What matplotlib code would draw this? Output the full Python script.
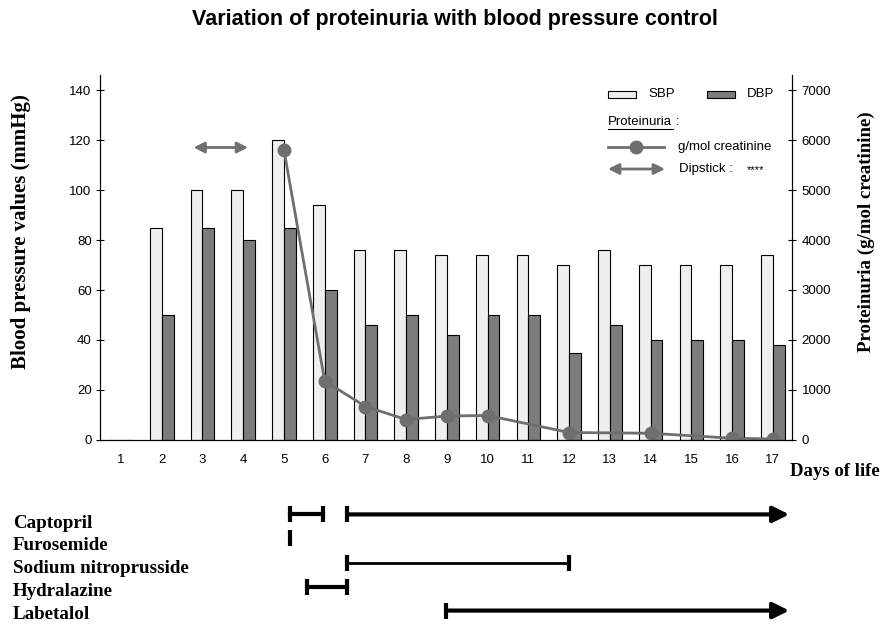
import numpy as np
import matplotlib.pyplot as plt
import matplotlib.transforms as mtransforms
from matplotlib.patches import Rectangle
from matplotlib.lines import Line2D

days = np.arange(1, 18)
sbp = [0, 85, 100, 100, 120, 94, 76, 76, 74, 74, 74, 70, 76, 70, 70, 70, 74]
dbp = [0, 50, 85, 80, 85, 60, 46, 50, 42, 50, 50, 35, 46, 40, 40, 40, 38]
prot_days = [5, 6, 7, 8, 9, 10, 12, 14, 16, 17]
prot_vals = [5800, 1180, 670, 410, 480, 490, 150, 135, 35, 20]
dipstick_span = (2.78, 4.12)
dipstick_level = 117

drugs = ['Captopril', 'Furosemide', 'Sodium nitroprusside', 'Hydralazine', 'Labetalol']
# (start, end, ends_with_arrow) for each course of treatment
drug_courses = {
    'Captopril': [(5.15, 5.95, False), (6.55, 17.4, True)],
    'Furosemide': [(5.15, 5.15, False)],
    'Sodium nitroprusside': [(6.55, 12.0, False)],
    'Hydralazine': [(5.57, 6.55, False)],
    'Labetalol': [(8.98, 17.4, True)],
}

sans = 'Liberation Sans'
serif = 'Liberation Serif'
plt.rcParams['font.family'] = sans
plt.rcParams['font.size'] = 9.5

fig = plt.figure(figsize=(8.92, 6.25), dpi=100)
ax = fig.add_axes([0.1121, 0.296, 0.7758, 0.584])

w = 0.29
ax.bar(days - w / 2, sbp, width=w, color='#efefef', edgecolor='black', linewidth=0.8)
ax.bar(days + w / 2, dbp, width=w, color='#7c7c7c', edgecolor='black', linewidth=0.8)
ax.set_xlim(0.485, 17.47)
ax.set_ylim(0, 146)
ax.set_yticks(range(0, 141, 20))
ax.set_xticks(days)
ax.tick_params(axis='x', length=0, pad=10)
ax.tick_params(axis='y', direction='inout', length=6, pad=3)
ax.spines['top'].set_visible(False)
ax.set_ylabel('Blood pressure values (mmHg)', family=serif, fontsize=15, fontweight='bold')
ax.yaxis.set_label_coords(-0.1, 0.57)

ax.annotate('', xy=(dipstick_span[1], dipstick_level), xytext=(dipstick_span[0], dipstick_level),
            arrowprops=dict(arrowstyle='<|-|>', color='#707070', lw=2, mutation_scale=16,
                            shrinkA=0, shrinkB=0))

axr = ax.twinx()
axr.set_ylim(0, 7300)
axr.set_yticks(range(0, 7001, 1000))
axr.tick_params(axis='y', direction='inout', length=6, pad=4)
axr.spines['top'].set_visible(False)
axr.plot(prot_days, prot_vals, color='#6e6e6e', lw=2, marker='o', markersize=9)
axr.set_ylabel('Proteinuria (g/mol creatinine)', family=serif, fontsize=13.6, fontweight='bold',
               rotation=90)
axr.yaxis.set_label_coords(1.095, 0.57)

# legend drawn by hand to keep the original layout
def fx(px):
    return (px - 100) / 692

def fy(py):
    return (440 - py) / 365

T = axr.transAxes
axr.add_patch(Rectangle((fx(608), fy(98)), fx(636) - fx(608), fy(91) - fy(98), transform=T,
                        facecolor='#efefef', edgecolor='black', lw=0.8, clip_on=False))
axr.text(fx(648), fy(94), 'SBP', transform=T, va='center')
axr.add_patch(Rectangle((fx(707), fy(98)), fx(735) - fx(707), fy(91) - fy(98), transform=T,
                        facecolor='#7c7c7c', edgecolor='black', lw=0.8, clip_on=False))
axr.text(fx(747), fy(94), 'DBP', transform=T, va='center')
prot_txt = axr.text(fx(608), fy(122), 'Proteinuria', transform=T, va='center')
axr.annotate(' :', xy=(1, 0.5), xycoords=prot_txt, va='center')
axr.add_line(Line2D([fx(608), fx(673)], [fy(129), fy(129)], transform=T, color='black', lw=0.8))
axr.add_line(Line2D([fx(608), fx(664)], [fy(147), fy(147)], transform=T, color='#6e6e6e', lw=2))
axr.add_line(Line2D([fx(636)], [fy(147)], transform=T, color='#6e6e6e', marker='o', markersize=9))
axr.text(fx(678), fy(147), 'g/mol creatinine', transform=T, va='center')
axr.annotate('', xy=(fx(665), fy(169)), xytext=(fx(608), fy(169)), xycoords=T, textcoords=T,
             arrowprops=dict(arrowstyle='<|-|>', color='#707070', lw=2, mutation_scale=16,
                             shrinkA=0, shrinkB=0))
axr.text(fx(679), fy(169), 'Dipstick :', transform=T, va='center')
axr.text(fx(747), fy(170), '****', transform=T, va='center', fontsize=8)

fig.text(0.886, 0.245, 'Days of life', family=serif, fontsize=13.5, fontweight='bold', va='center')
fig.text(0.51, 0.969, 'Variation of proteinuria with blood pressure control',
         fontsize=15.5, fontweight='bold', ha='center', va='center')

# treatment timeline
axd = fig.add_axes([0.1121, 0.0, 0.7758, 0.2])
axd.set_xlim(ax.get_xlim())
axd.set_ylim(4.6, -0.6)
axd.axis('off')
label_tr = mtransforms.blended_transform_factory(fig.transFigure, axd.transData)
for i, name in enumerate(drugs):
    lw = 2 if name == 'Sodium nitroprusside' else 3
    for start, end, arrow in drug_courses[name]:
        if start == end:
            axd.plot([start], [i], marker='|', markersize=12, mew=3, color='black')
            continue
        if arrow:
            axd.annotate('', xy=(end, i), xytext=(start, i),
                         arrowprops=dict(arrowstyle='-|>', color='black', lw=lw,
                                         mutation_scale=24, shrinkA=0, shrinkB=0))
            axd.plot([start], [i], marker='|', markersize=12, mew=3, color='black')
        else:
            axd.plot([start, end], [i, i], color='black', lw=lw)
            axd.plot([start, end], [i, i], ls='none', marker='|', markersize=12, mew=3, color='black')
    axd.text(13 / 892, i + 0.36 - 0.05 * i, name, transform=label_tr,
             family=serif, fontsize=13.7, fontweight='bold', va='center')

fig.savefig('out.png', dpi=100)
